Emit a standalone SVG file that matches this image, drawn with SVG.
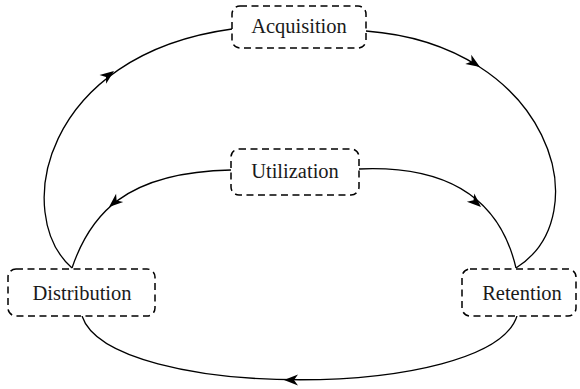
<svg xmlns="http://www.w3.org/2000/svg" width="580" height="389" viewBox="0 0 580 389">
<style>
.box{fill:#fff;stroke:#000;stroke-width:1.5;stroke-dasharray:7 4.5}
.lbl{font-family:"Liberation Serif","Times New Roman",serif;font-size:20.5px;text-anchor:middle;fill:#1a1a1a}
.edge{fill:none;stroke:#000;stroke-width:1.3}
</style>
<defs>
<path id="ah" d="M0,0 L-14,-5.5 L-10,0 L-14,5.5 Z" fill="#000"/>
</defs>
<g id="connectors">
<path class="edge" d="M72,268 C12,215 42,55 232,29"/>
<path class="edge" d="M366,31 C550,45 600,215 516,268"/>
<path class="edge" d="M82,316 C110,401 490,401 517,316"/>
<path class="edge" d="M72,268 C90,215 125,172 231,170"/>
<path class="edge" d="M359,169 C450,165 500,200 516,268"/>
<use href="#ah" transform="translate(114,71) rotate(-37)"/>
<use href="#ah" transform="translate(480,67) rotate(33)"/>
<use href="#ah" transform="translate(284,380) rotate(180)"/>
<use href="#ah" transform="translate(109,207) rotate(139.5)"/>
<use href="#ah" transform="translate(481,207) rotate(42)"/>
</g>
<g id="acquisition">
<rect class="box" x="232" y="6" width="134" height="42" rx="8"/>
<text class="lbl" x="299" y="33">Acquisition</text>
</g>
<g id="utilization">
<rect class="box" x="231" y="149" width="128" height="46" rx="8"/>
<text class="lbl" x="295" y="178">Utilization</text>
</g>
<g id="distribution">
<rect class="box" x="8" y="269" width="147" height="47" rx="8"/>
<text class="lbl" x="82" y="300">Distribution</text>
</g>
<g id="retention">
<rect class="box" x="462" y="269" width="114" height="47" rx="8"/>
<text class="lbl" x="522" y="300">Retention</text>
</g>
</svg>
